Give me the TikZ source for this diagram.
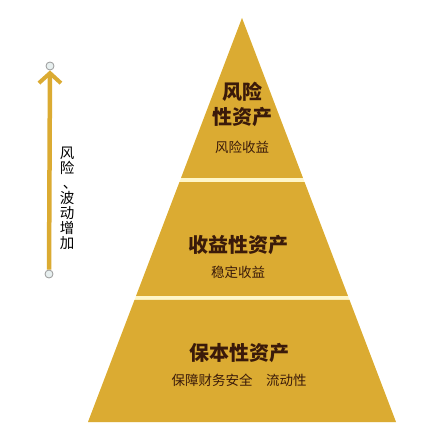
\documentclass[tikz,border=0pt]{standalone}
\usepackage{fontspec}
\newfontfamily\cjk{Noto Sans CJK SC}
\usetikzlibrary{arrows.meta,calc}
\definecolor{gold}{RGB}{219,171,50}
\definecolor{cream}{RGB}{255,246,200}
\definecolor{brownink}{RGB}{58,26,10}
\definecolor{dotfill}{RGB}{232,240,240}

\begin{document}
\begin{tikzpicture}[x=1pt,y=-1pt,
  title/.style={text=brownink, font=\cjk\bfseries\fontsize{20}{25}\selectfont, align=center},
  sub/.style={text=brownink, font=\cjk\fontsize{13.5}{16}\selectfont},
  dot/.style={circle, draw=gray!80, fill=dotfill, line width=0.8pt, inner sep=0pt, minimum size=8pt}]
  \useasboundingbox (0,0) rectangle (443,443);

  % Pyramid
  \coordinate (apex) at (242,18);
  \coordinate (bl) at (88,422);
  \coordinate (br) at (396,422);
  \fill[cream] (apex) -- (bl) -- (br) -- cycle;
  \fill[gold] (apex) -- ($(apex)!0.396!(bl)$) -- ($(apex)!0.396!(br)$) -- cycle;
  \fill[gold] ($(apex)!0.406!(bl)$) -- ($(apex)!0.688!(bl)$) -- ($(apex)!0.688!(br)$) -- ($(apex)!0.406!(br)$) -- cycle;
  \fill[gold] ($(apex)!0.698!(bl)$) -- (bl) -- (br) -- ($(apex)!0.698!(br)$) -- cycle;

  % Tier texts
  \node[title] (risky) at (242,104) {风险\\性资产};
  \node[sub] (riskysub) at (242,147) {风险收益};
  \node[title] (income) at (238,245) {收益性资产};
  \node[sub] (incomesub) at (238,272) {稳定收益};
  \node[title] (safe) at (239,353) {保本性资产};
  \node[sub] (safesub) at (239,380) {保障财务安全\quad 流动性};

  % Risk arrow
  \node[dot] (lo) at (49,274) {};
  \node[dot] (hi) at (50,66) {};
  \draw[gold, line width=4.5pt, -{Straight Barb[length=10pt,width=22pt,line width=4pt]}] (lo) -- (hi);
  \node[font=\cjk\fontsize{14.5}{15}\selectfont, align=center, inner sep=0pt] (trend) at (67,198)
    {风\\险\\\hspace*{6pt}、\\波\\动\\增\\加};
\end{tikzpicture}
\end{document}
